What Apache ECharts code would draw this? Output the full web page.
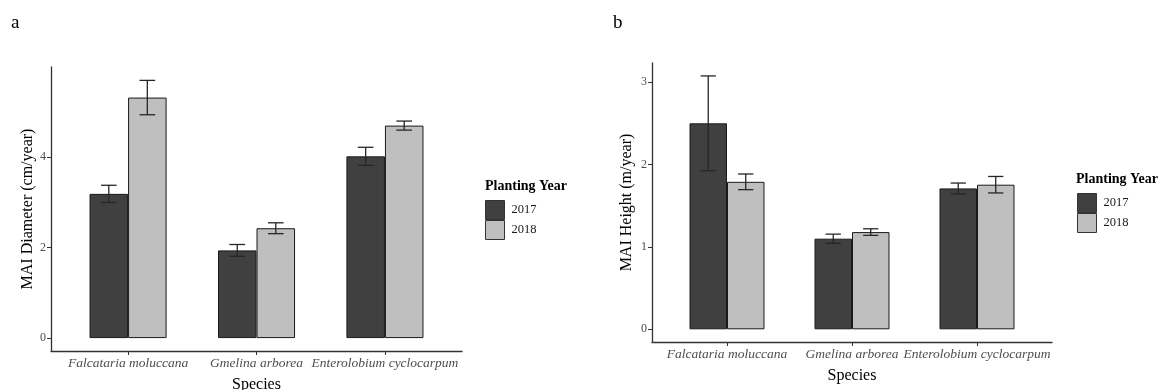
<!DOCTYPE html>
<html>
<head>
<meta charset="utf-8">
<script src="https://cdn.jsdelivr.net/npm/echarts@6/dist/echarts.min.js"></script>
<style>
html,body{margin:0;padding:0;background:#fff;}
#c{width:1159px;height:390px;}
</style>
</head>
<body>
<div id="c"></div>
<script>
// ---- data ----
var categories = ['Falcataria moluccana', 'Gmelina arborea', 'Enterolobium cyclocarpum'];
var years = ['2017', '2018'];
// Panel a: MAI Diameter (cm/year)
var diam2017 = [3.19, 1.94, 4.02];
var diam2017Err = [0.19, 0.13, 0.20];
var diam2018 = [5.32, 2.43, 4.70];
var diam2018Err = [0.38, 0.12, 0.10];
var diamTicks = [0, 2, 4];
// Panel b: MAI Height (m/year)
var height2017 = [2.50, 1.10, 1.71];
var height2017Err = [0.575, 0.055, 0.065];
var height2018 = [1.79, 1.18, 1.755];
var height2018Err = [0.095, 0.04, 0.10];
var heightTicks = [0, 1, 2, 3];

var FONT = 'Liberation Serif';
var DARK = '#404040', LIGHT = '#bfbfbf';

function barData(vals) { return vals.map(function (v, i) { return [i, v]; }); }
function errData(vals, errs) { return vals.map(function (v, i) { return [i, v, errs[i]]; }); }

function errSeries(name, vals, errs, offset, axisIdx) {
  return {
    type: 'custom', name: name + ' err', xAxisIndex: axisIdx, yAxisIndex: axisIdx, z: 5,
    silent: true,
    data: errData(vals, errs),
    renderItem: function (params, api) {
      var x = api.value(0) + offset, v = api.value(1), e = api.value(2);
      var top = api.coord([x, v + e]);
      var bot = api.coord([x, v - e]);
      var half = api.size([0.061, 0])[0];
      var st = { stroke: '#262626', lineWidth: 1.3 };
      return {
        type: 'group', children: [
          { type: 'line', shape: { x1: top[0], y1: top[1], x2: bot[0], y2: bot[1] }, style: st },
          { type: 'line', shape: { x1: top[0] - half, y1: top[1], x2: top[0] + half, y2: top[1] }, style: st },
          { type: 'line', shape: { x1: bot[0] - half, y1: bot[1], x2: bot[0] + half, y2: bot[1] }, style: st }
        ]
      };
    }
  };
}

function barSeries(name, vals, color, axisIdx) {
  return {
    type: 'bar', name: name, xAxisIndex: axisIdx, yAxisIndex: axisIdx,
    barGap: '0%', barCategoryGap: '40%',
    itemStyle: { color: color, borderColor: '#1a1a1a', borderWidth: 1 },
    data: barData(vals)
  };
}

function xAxisCfg(gridIdx, nameGap) {
  return {
    type: 'value', gridIndex: gridIdx, min: -0.6, max: 2.6,
    name: 'Species', nameLocation: 'middle', nameGap: nameGap,
    nameTextStyle: { fontFamily: FONT, fontSize: 16, color: '#000' },
    axisLine: { onZero: false, lineStyle: { color: '#333', width: 1.3 } },
    axisTick: { show: true, length: 4, customValues: [0, 1, 2], lineStyle: { color: '#333' } },
    axisLabel: {
      customValues: [0, 1, 2], margin: 5,
      formatter: function (v) { return categories[Math.round(v)] || ''; },
      fontFamily: FONT, fontStyle: 'italic', fontSize: 13.5, color: '#4d4d4d'
    },
    splitLine: { show: false }
  };
}

function yAxisCfg(gridIdx, name, min, max, ticks, nameGap) {
  return {
    type: 'value', gridIndex: gridIdx, min: min, max: max,
    name: name, nameLocation: 'middle', nameGap: nameGap,
    nameTextStyle: { fontFamily: FONT, fontSize: 16, color: '#000' },
    axisLine: { show: true, onZero: false, lineStyle: { color: '#333', width: 1.3 } },
    axisTick: { show: true, length: 4, customValues: ticks, lineStyle: { color: '#333' } },
    axisLabel: { customValues: ticks, margin: 5, fontFamily: FONT, fontSize: 12, color: '#4d4d4d' },
    splitLine: { show: false }
  };
}

var legendCommon = {
  orient: 'vertical', itemWidth: 19, itemHeight: 19, itemGap: 0,
  icon: 'rect', selectedMode: false,
  itemStyle: { borderColor: '#333', borderWidth: 1 },
  textStyle: { fontFamily: FONT, fontSize: 12.5, color: '#1a1a1a', padding: [0, 0, 0, 2] },
  data: years
};

var option = {
  animation: false,
  backgroundColor: '#fff',
  title: [
    { text: 'a', left: 11, top: 14, padding: 0, textStyle: { fontFamily: FONT, fontSize: 19, fontWeight: 'normal', color: '#000' } },
    { text: 'b', left: 613, top: 14, padding: 0, textStyle: { fontFamily: FONT, fontSize: 19, fontWeight: 'normal', color: '#000' } },
    { text: 'Planting Year', left: 485, top: 179, padding: 0, textStyle: { fontFamily: FONT, fontSize: 14, fontWeight: 'bold', color: '#000' } },
    { text: 'Planting Year', left: 1076, top: 172, padding: 0, textStyle: { fontFamily: FONT, fontSize: 14, fontWeight: 'bold', color: '#000' } }
  ],
  legend: [
    Object.assign({}, legendCommon, { left: 485, top: 200, padding: 0 }),
    Object.assign({}, legendCommon, { left: 1077, top: 193, padding: 0 })
  ],
  grid: [
    { left: 51, top: 67, width: 411, height: 284, outerBoundsMode: 'none', containLabel: false },
    { left: 652, top: 63, width: 400, height: 279, outerBoundsMode: 'none', containLabel: false }
  ],
  xAxis: [xAxisCfg(0, 26), xAxisCfg(1, 26)],
  yAxis: [
    yAxisCfg(0, 'MAI Diameter (cm/year)', -0.2855, 5.996, diamTicks, 15),
    yAxisCfg(1, 'MAI Height (m/year)', -0.154, 3.232, heightTicks, 17)
  ],
  series: [
    barSeries(years[0], diam2017, DARK, 0),
    barSeries(years[1], diam2018, LIGHT, 0),
    errSeries(years[0], diam2017, diam2017Err, -0.15, 0),
    errSeries(years[1], diam2018, diam2018Err, 0.15, 0),
    barSeries(years[0], height2017, DARK, 1),
    barSeries(years[1], height2018, LIGHT, 1),
    errSeries(years[0], height2017, height2017Err, -0.15, 1),
    errSeries(years[1], height2018, height2018Err, 0.15, 1)
  ]
};

var chart = echarts.init(document.getElementById('c'), null, { renderer: 'canvas' });
chart.setOption(option);
</script>
</body>
</html>
